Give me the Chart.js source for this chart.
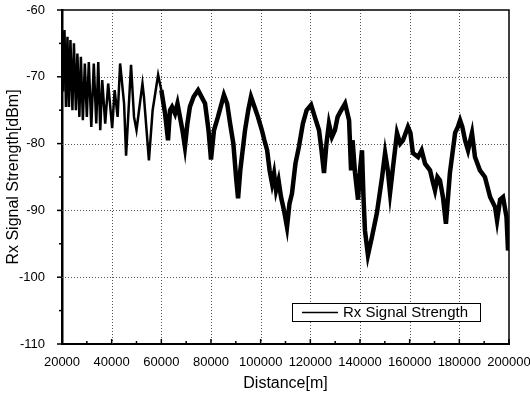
<!DOCTYPE html>
<html>
<head>
<meta charset="utf-8">
<script src="https://cdn.jsdelivr.net/npm/chart.js@4/dist/chart.umd.min.js"></script>
<style>
  html, body { margin: 0; padding: 0; background: #fff; }
  #wrap { width: 530px; height: 397px; position: relative; }
</style>
</head>
<body>
<div id="wrap"><canvas id="rx"></canvas></div>
<script>
// Rx signal strength vs distance
const SERIES_LABEL = 'Rx Signal Strength';

// near zone: fast two-ray ripple (20 km .. 60 km)
const nearDist = [
  20000, 20400, 21000, 21600, 22200, 22800, 23400, 24200, 24800, 25600,
  26200, 27000, 27600, 28400, 29200, 30000, 30800, 31800, 32800, 33800,
  34600, 35400, 36200, 37400, 38600, 40200, 41200, 42400, 43400, 45000,
  45800, 47800, 49000, 50000, 52400, 53000, 55000, 56500, 58700, 60000
];
const nearRx = [
  -72, -66, -63, -74.5, -64, -74.5, -64.5, -75, -65, -75,
  -66.5, -76, -67, -76.5, -68, -76, -67.8, -77.5, -68, -77,
  -67.8, -78, -70.5, -77, -71, -77.7, -72, -76, -68, -74,
  -81.8, -68.2, -76, -78, -71, -73, -82.5, -75, -69.7, -72
];

// far zone: slow fading band (60 km .. 200 km)
const farDist = [
  60000, 61500, 62700, 63500, 64300, 65500, 66500, 67500, 68500, 69500,
  70500, 71500, 73000, 74800, 76200, 77600, 79000, 80000, 81200, 82800,
  85200, 86500, 87700, 89000, 90200, 90900, 91800, 93700, 95000, 96100,
  97500, 98900, 100500, 101500, 102600, 103600, 104600, 105400, 106200, 107200,
  108200, 109400, 110600, 111600, 112600, 114000, 115400, 117000, 118500, 120300,
  121800, 123500, 124500, 125500, 126500, 127500, 128700, 129900, 131000, 132000,
  134000, 135600, 136400, 137000, 138000, 139200, 140000, 140800, 141400, 142000,
  143200, 144800, 146800, 148900, 150100, 151200, 152100, 153300, 154900, 156200,
  157300, 159300, 160300, 161300, 163400, 164800, 166200, 168200, 169500, 170200,
  171200, 172200, 173400, 174600, 176200, 178300, 179400, 180300, 181200, 182300,
  183500, 185100, 186300, 188300, 190300, 192400, 194400, 195200, 196400, 197600,
  199000, 199600, 200000
];
const farRx = [
  -72, -75.5, -79.5, -75, -74.5, -75.5, -74, -76, -78, -80.5,
  -77, -74.5, -73, -72, -73, -74, -78, -82.4, -78, -76,
  -72.7, -74, -77, -80, -85.5, -88.2, -84, -78, -75, -73,
  -74.5, -76, -78, -79.5, -81, -84, -86, -84.5, -87, -85.5,
  -88, -90, -92.5, -89, -87.5, -83, -80.5, -77, -75, -74.2,
  -76, -78, -81, -84.4, -80, -77, -79, -78, -76, -75.3,
  -74, -76.5, -84, -79.5, -84.4, -88.4, -84, -81, -88, -93,
  -96.7, -94, -90.4, -85, -81.4, -84, -87.4, -83.5, -78.4, -80,
  -79.5, -77.5, -78.4, -81.4, -82, -81, -83, -84, -86, -87,
  -85, -85.5, -88, -92, -84.4, -78.4, -77.5, -76.5, -77.5, -79.5,
  -81, -78.4, -82, -84, -85, -88, -89.5, -91.5, -88.4, -88,
  -91, -96, -95
];

const xTicks = [20000, 40000, 60000, 80000, 100000, 120000, 140000, 160000, 180000, 200000];
const xMinor = [30000, 50000, 70000, 90000, 110000, 130000, 150000, 170000, 190000];
const yTicks = [-110, -100, -90, -80, -70, -60];
const yMinor = [-105, -95, -85, -75, -65];

const FONT = 'Liberation Sans, Arial, sans-serif';

function toPoints(xs, ys) {
  return xs.map((x, i) => ({ x, y: ys[i] }));
}

function line(ctx, x1, y1, x2, y2) {
  ctx.beginPath();
  ctx.moveTo(x1, y1);
  ctx.lineTo(x2, y2);
  ctx.stroke();
}

// dotted grid under the data
const gridPlugin = {
  id: 'dotgrid',
  beforeDatasetsDraw(chart) {
    const { ctx, chartArea: a, scales } = chart;
    ctx.save();
    ctx.strokeStyle = '#555';
    ctx.lineWidth = 1;
    ctx.setLineDash([1, 2]);
    xTicks.slice(1, -1).forEach(v => {
      const px = Math.round(scales.x.getPixelForValue(v)) + 0.5;
      line(ctx, px, a.top, px, a.bottom);
    });
    yTicks.slice(1, -1).forEach(v => {
      const py = Math.round(scales.y.getPixelForValue(v)) + 0.5;
      line(ctx, a.left, py, a.right, py);
    });
    ctx.restore();
  }
};

// box frame, tick marks and legend on top
const framePlugin = {
  id: 'frame',
  afterDraw(chart) {
    const { ctx, chartArea: a, scales } = chart;
    ctx.save();
    ctx.strokeStyle = '#000';
    ctx.lineWidth = 1.5;
    ctx.beginPath();
    ctx.moveTo(a.left, a.top);
    ctx.lineTo(a.right, a.top);
    ctx.lineTo(a.right, a.bottom);
    ctx.stroke();

    ctx.lineWidth = 1.5;
    xTicks.forEach(v => {
      const px = scales.x.getPixelForValue(v);
      line(ctx, px, a.bottom, px, a.bottom - 5);
    });
    xMinor.forEach(v => {
      const px = scales.x.getPixelForValue(v);
      line(ctx, px, a.bottom, px, a.bottom - 3);
    });
    yTicks.forEach(v => {
      const py = scales.y.getPixelForValue(v);
      line(ctx, a.left, py, a.left - 5, py);
    });
    yMinor.forEach(v => {
      const py = scales.y.getPixelForValue(v);
      line(ctx, a.left, py, a.left - 3, py);
    });

    // legend box, lower right inside the plot
    const w = 188, h = 18;
    const lx = a.right - 29 - w, ly = a.bottom - 23 - h;
    ctx.fillStyle = '#fff';
    ctx.fillRect(lx, ly, w, h);
    ctx.lineWidth = 1;
    ctx.strokeRect(lx + 0.5, ly + 0.5, w, h);
    ctx.lineWidth = 1.5;
    line(ctx, lx + 10, ly + h / 2 + 0.5, lx + 46, ly + h / 2 + 0.5);
    ctx.fillStyle = '#000';
    ctx.font = '15px ' + FONT;
    ctx.textBaseline = 'middle';
    ctx.fillText(SERIES_LABEL, lx + 51, ly + h / 2 + 1);
    ctx.restore();
  }
};

new Chart(document.getElementById('rx'), {
  type: 'line',
  data: {
    datasets: [
      {
        label: SERIES_LABEL,
        data: toPoints(nearDist, nearRx),
        borderColor: '#000',
        borderWidth: 2.5,
        pointRadius: 0,
        tension: 0,
      },
      {
        label: SERIES_LABEL + ' (far)',
        data: toPoints(farDist, farRx),
        borderColor: '#000',
        borderWidth: 4.5,
        pointRadius: 0,
        tension: 0,
      },
    ],
  },
  options: {
    responsive: true,
    maintainAspectRatio: false,
    animation: false,
    devicePixelRatio: 1,
    layout: { padding: { left: 0, top: 10, right: 21, bottom: 0 } },
    plugins: {
      legend: { display: false },
      tooltip: { enabled: false },
    },
    scales: {
      x: {
        type: 'linear',
        min: 20000,
        max: 200000,
        afterFit: s => {
          s.height = 53;
          s.paddingLeft = 0;
          s.paddingRight = 0;
        },
        afterBuildTicks: s => { s.ticks = xTicks.map(v => ({ value: v })); },
        ticks: {
          color: '#000',
          font: { family: FONT, size: 13 },
          padding: 3,
          maxRotation: 0,
          callback: v => String(v),
        },
        grid: { display: false },
        border: { color: '#000', width: 2 },
        title: {
          display: true,
          text: 'Distance[m]',
          color: '#000',
          font: { family: FONT, size: 16 },
          padding: { top: 4, bottom: 4 },
        },
      },
      y: {
        min: -110,
        max: -60,
        afterFit: s => {
          s.width = 62;
          s.paddingTop = 0;
          s.paddingBottom = 0;
        },
        afterBuildTicks: s => { s.ticks = yTicks.map(v => ({ value: v })); },
        ticks: {
          color: '#000',
          font: { family: FONT, size: 13 },
          padding: 9,
          callback: v => String(v),
        },
        grid: { display: false },
        border: { color: '#000', width: 2.5 },
        title: {
          display: true,
          text: 'Rx Signal Strength[dBm]',
          color: '#000',
          font: { family: FONT, size: 16 },
          padding: { top: 4, bottom: 0 },
        },
      },
    },
  },
  plugins: [gridPlugin, framePlugin],
});
</script>
</body>
</html>
